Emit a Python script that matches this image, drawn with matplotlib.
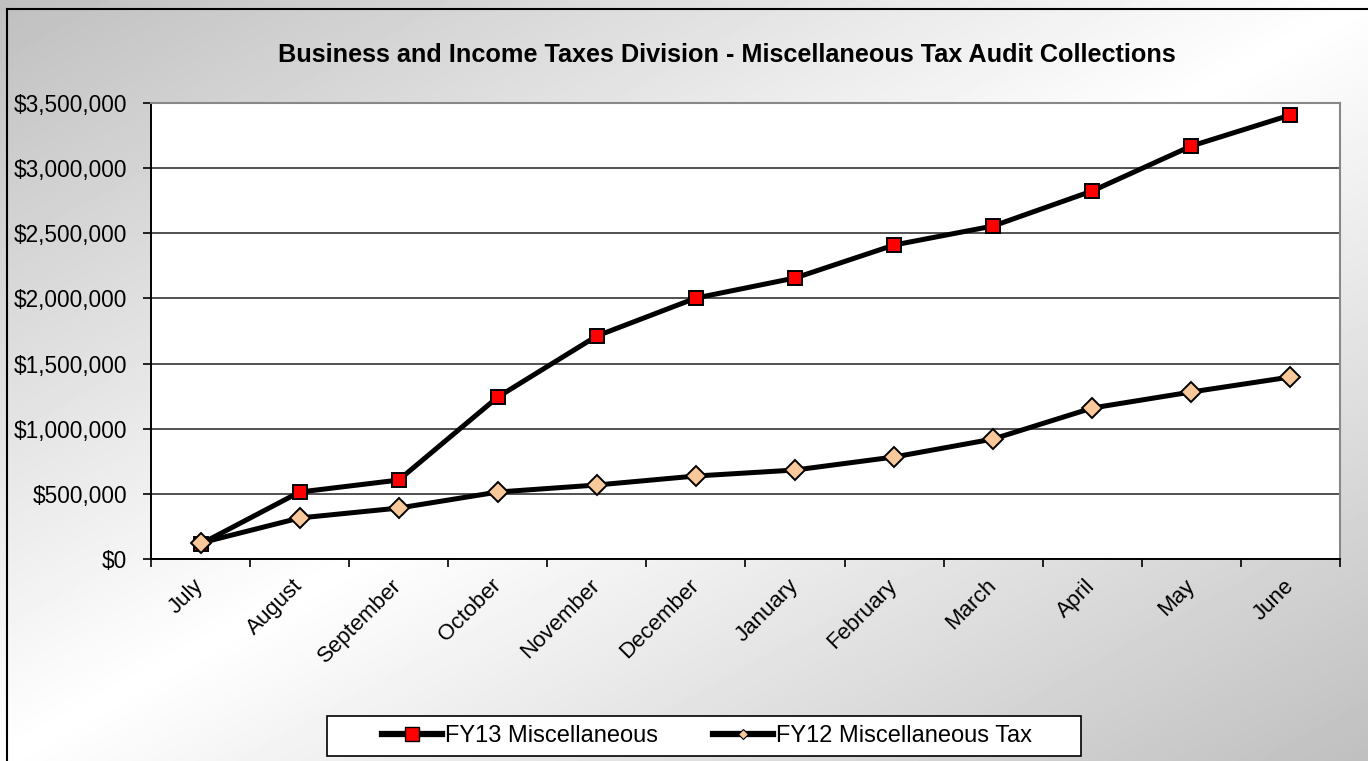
import numpy as np
import matplotlib
matplotlib.use("Agg")
import matplotlib.pyplot as plt
from matplotlib.lines import Line2D
from matplotlib.patches import Rectangle
from matplotlib.ticker import FuncFormatter, MultipleLocator

plt.rcParams['font.family'] = ['Liberation Sans', 'DejaVu Sans']

months = ["July", "August", "September", "October", "November", "December",
          "January", "February", "March", "April", "May", "June"]
fy13 = [115000, 514000, 606000, 1243000, 1712000, 2003000,
        2157000, 2410000, 2556000, 2825000, 3170000, 3408000]
fy12 = [123000, 315000, 391000, 514000, 568000, 637000,
        683000, 783000, 921000, 1159000, 1282000, 1397000]
title = "Business and Income Taxes Division - Miscellaneous Tax Audit Collections"
labels = ["FY13 Miscellaneous", "FY12 Miscellaneous Tax"]

W, H = 1368, 761
fig = plt.figure(figsize=(W / 100, H / 100), dpi=100)

# gradient background
bg = fig.add_axes([0, 0, 1, 1], zorder=-10)
xx, yy = np.meshgrid(np.linspace(0, 1, 400), np.linspace(0, 1, 240))
t = (xx + yy) / 2.0
val = 1.0 - 0.25 * np.abs(2 * t - 1)
bg.imshow(val, cmap='gray', vmin=0, vmax=1, aspect='auto', extent=[0, 1, 1, 0],
          interpolation='bilinear')
bg.set_xlim(0, 1)
bg.set_ylim(1, 0)
bg.axis('off')
# outer border (top and left)
fig.add_artist(Line2D([7 / W, 7 / W], [0, 1 - 9 / H], transform=fig.transFigure, color='black', lw=1.5))
fig.add_artist(Line2D([7 / W, 1], [1 - 9 / H, 1 - 9 / H], transform=fig.transFigure, color='black', lw=1.5))

ax = fig.add_axes([151 / W, 1 - 559 / H, (1340 - 151) / W, (559 - 103) / H])
ax.set_facecolor('white')
x = np.arange(len(months))
ax.plot(x, fy13, color='black', lw=3.6, marker='s', ms=10.5, mfc='#ff0000', mec='black', mew=1.4,
        label=labels[0], zorder=4)
ax.plot(x, fy12, color='black', lw=3.6, marker='D', ms=10, mfc='#f9c89b', mec='black', mew=1.4,
        label=labels[1], zorder=5)

ax.set_xlim(-0.5, len(months) - 0.5)
ax.set_ylim(0, 3500000)
ax.yaxis.set_major_locator(MultipleLocator(500000))
ax.yaxis.set_major_formatter(FuncFormatter(lambda v, p: "${:,.0f}".format(v)))
ax.grid(axis='y', color='#222222', lw=1.1, zorder=1)
ax.set_axisbelow(True)

ax.set_xticks(np.arange(-0.5, len(months) + 0.5, 1.0))
ax.set_xticklabels([])
ax.set_xticks(x, minor=True)
ax.set_xticklabels(months, minor=True, rotation=45, ha='right', va='center',
                   rotation_mode='anchor', fontsize=16)
ax.tick_params(axis='x', which='minor', length=0, pad=17)
ax.tick_params(axis='x', which='major', length=6, width=1.2, direction='out')
ax.tick_params(axis='y', length=6, width=1.2, direction='out', labelsize=16.3, pad=11)
for s in ['left', 'bottom']:
    ax.spines[s].set_color('black')
    ax.spines[s].set_linewidth(1.4)
for s in ['top', 'right']:
    ax.spines[s].set_color('#888888')
    ax.spines[s].set_linewidth(1.5)

fig.text(727 / W, 1 - 55 / H, title, ha='center', va='center', fontsize=18.2, fontweight='bold')

# legend frame
fig.add_artist(Rectangle((327 / W, 1 - 756 / H), (1081 - 327) / W, 40 / H, transform=fig.transFigure,
                         facecolor='white', edgecolor='black', lw=1.2, zorder=2))
h1 = Line2D([], [], color='black', lw=4.5, marker='s', ms=9.5, mfc='#ff0000', mec='black', mew=1.0)
h2 = Line2D([], [], color='black', lw=4.5, marker='D', ms=5.5, mfc='#f9c89b', mec='black', mew=0.8)
leg = fig.legend([h1, h2], labels, loc='center', bbox_to_anchor=(707 / W, 1 - 736 / H), ncol=2,
                 frameon=False, fontsize=17, handlelength=2.55, handletextpad=0.12,
                 columnspacing=2.35, borderpad=0.0, borderaxespad=0)
leg.set_zorder(3)

fig.savefig("out.png", dpi=100)
